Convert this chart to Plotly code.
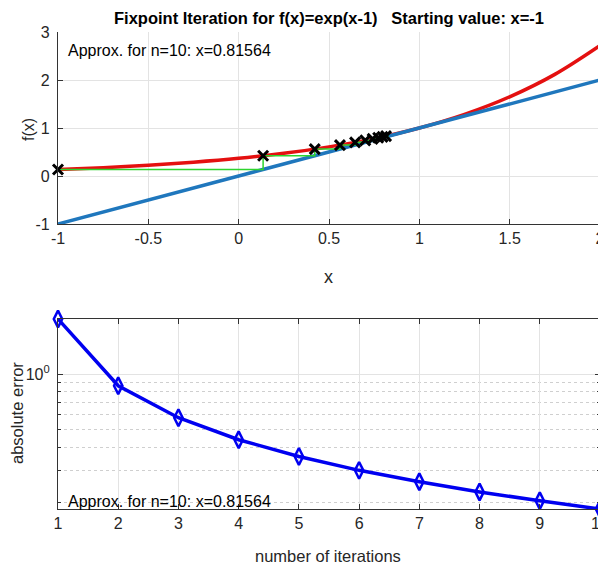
import numpy as np
import plotly.graph_objects as go

# ---- data ----
curve_x = [-1.0, -0.75, -0.5, -0.25, 0.0, 0.25, 0.5, 0.75, 1.0, 1.25, 1.5, 1.75, 2.0]
curve_f = [0.135, 0.174, 0.223, 0.287, 0.368, 0.472, 0.607, 0.779, 1.0, 1.284, 1.649, 2.117, 2.718]
ident_x = [-1.0, 2.0]
ident_y = [-1.0, 2.0]
iter_x = [-1.0, 0.1353, 0.4212, 0.5606, 0.6444, 0.7007, 0.7414, 0.7722, 0.7963, 0.8156]
iter_f = [0.1353, 0.4212, 0.5606, 0.6444, 0.7007, 0.7414, 0.7722, 0.7963, 0.8156, 0.8319]
n_iter = [1, 2, 3, 4, 5, 6, 7, 8, 9, 10]
abs_err = [2.0, 0.865, 0.579, 0.439, 0.356, 0.299, 0.259, 0.228, 0.204, 0.184]
top_xticks = [-1, -0.5, 0, 0.5, 1, 1.5, 2]
top_xlabels = ["-1", "-0.5", "0", "0.5", "1", "1.5", "2"]
top_yticks = [-1, 0, 1, 2, 3]
top_ylabels = ["-1", "0", "1", "2", "3"]
title_text = "Fixpoint Iteration for f(x)=exp(x-1)   Starting value: x=-1"
approx_text = "Approx. for n=10: x=0.81564"

# cobweb path built from the iterates
web_x, web_y = [], []
for xk, fk in zip(iter_x, iter_f):
    web_x += [xk, fk]
    web_y += [fk, fk]

FONT = "Liberation Sans"
TXT = "#262626"
GRID = "#e3e3e3"

fig = go.Figure()
fig.add_trace(go.Scatter(x=curve_x, y=curve_f, mode="lines", line=dict(color="#e41010", width=3.5, shape="spline"),
                         xaxis="x", yaxis="y", showlegend=False))
fig.add_trace(go.Scatter(x=ident_x, y=ident_y, mode="lines", line=dict(color="#1f77bd", width=3.5),
                         xaxis="x", yaxis="y", showlegend=False))
fig.add_trace(go.Scatter(x=web_x, y=web_y, mode="lines", line=dict(color="#2ed42e", width=1.5),
                         xaxis="x", yaxis="y", showlegend=False))
fig.add_trace(go.Scatter(x=iter_x, y=iter_f, mode="markers",
                         marker=dict(symbol="x-thin", size=10, line=dict(color="black", width=3)),
                         xaxis="x", yaxis="y", showlegend=False, cliponaxis=False))
fig.add_trace(go.Scatter(x=n_iter, y=abs_err, mode="lines+markers", line=dict(color="#0000f0", width=3.5),
                         marker=dict(symbol="diamond-tall-open", size=12, color="#0000f0",
                                     line=dict(color="#0000f0", width=2.5)),
                         xaxis="x2", yaxis="y2", showlegend=False, cliponaxis=False))

axis_common = dict(showgrid=True, gridcolor=GRID, gridwidth=1, zeroline=False, ticks="inside", ticklen=5,
                   tickcolor="#333333", showline=True, linecolor="#333333", linewidth=1.2, automargin=False,
                   ticklabeloverflow="allow", tickfont=dict(family=FONT, size=16, color=TXT))

lo, hi = np.log10(min(abs_err)), np.log10(max(abs_err))

# the page places the figure 8 px in from the top-left corner
OFF = 8
FW, FH = 606 - OFF, 567 - OFF
OX = 58            # page x of the plot area's left edge
L, R, T, B = OX - OFF, 6, 32 - OFF, 58
H = FH - T - B
W = FW - L - R

def py(pix):  # page row -> paper y
    return (FH - B - (pix - OFF)) / H

def px(pix):  # page column -> paper x
    return (pix - OX) / W

fig.update_layout(
    width=FW, height=FH,
    margin=dict(l=L, r=R, t=T, b=B),
    paper_bgcolor="white", plot_bgcolor="white",
    xaxis=dict(domain=[0, 1], range=[-1, 2], tickvals=top_xticks, ticktext=top_xlabels, anchor="y", **axis_common),
    yaxis=dict(domain=[py(224), 1], range=[-1, 3], tickvals=top_yticks, ticktext=top_ylabels, anchor="x",
               ticklabelstandoff=4, **axis_common),
    xaxis2=dict(domain=[0, 1], range=[1, 10], dtick=1, anchor="y2", mirror="ticks", **axis_common),
    yaxis2=dict(domain=[0, py(319)], type="log", range=[lo, hi], anchor="x2", mirror="ticks",
                tickvals=[1], ticktext=["10<sup>0</sup>"], ticklabelstandoff=4,
                minor=dict(tickvals=[0.2, 0.3, 0.4, 0.5, 0.6, 0.7, 0.8, 0.9], ticks="inside", ticklen=3,
                           tickcolor="#333333", showgrid=True, griddash="dot", gridcolor="#cfcfcf"),
                **axis_common),
    annotations=[
        dict(text="<b>" + title_text + "</b>", xref="paper", yref="paper", x=0.5, y=py(18), xanchor="center",
             yanchor="middle", showarrow=False, font=dict(family=FONT, size=16.5, color="black")),
        dict(text=approx_text, xref="paper", yref="paper", x=px(66), y=py(50), xanchor="left", yanchor="middle",
             showarrow=False, font=dict(family=FONT, size=16, color="black")),
        dict(text=approx_text, xref="paper", yref="paper", x=px(66), y=py(501), xanchor="left", yanchor="middle",
             showarrow=False, font=dict(family=FONT, size=16, color="black")),
        dict(text="f(x)", xref="paper", yref="paper", x=px(28), y=py(130), xanchor="center",
             yanchor="middle", textangle=-90, showarrow=False, font=dict(family=FONT, size=16, color=TXT)),
        dict(text="x", xref="paper", yref="paper", x=px(328), y=py(277), xanchor="center",
             yanchor="middle", showarrow=False, font=dict(family=FONT, size=18, color=TXT)),
        dict(text="absolute error", xref="paper", yref="paper", x=px(17), y=py(413), xanchor="center",
             yanchor="middle", textangle=-90, showarrow=False, font=dict(family=FONT, size=16.5, color=TXT)),
        dict(text="number of iterations", xref="paper", yref="paper", x=px(328), y=py(556),
             xanchor="center", yanchor="middle", showarrow=False, font=dict(family=FONT, size=16.5, color=TXT)),
    ],
)

fig.write_html("out.html")
